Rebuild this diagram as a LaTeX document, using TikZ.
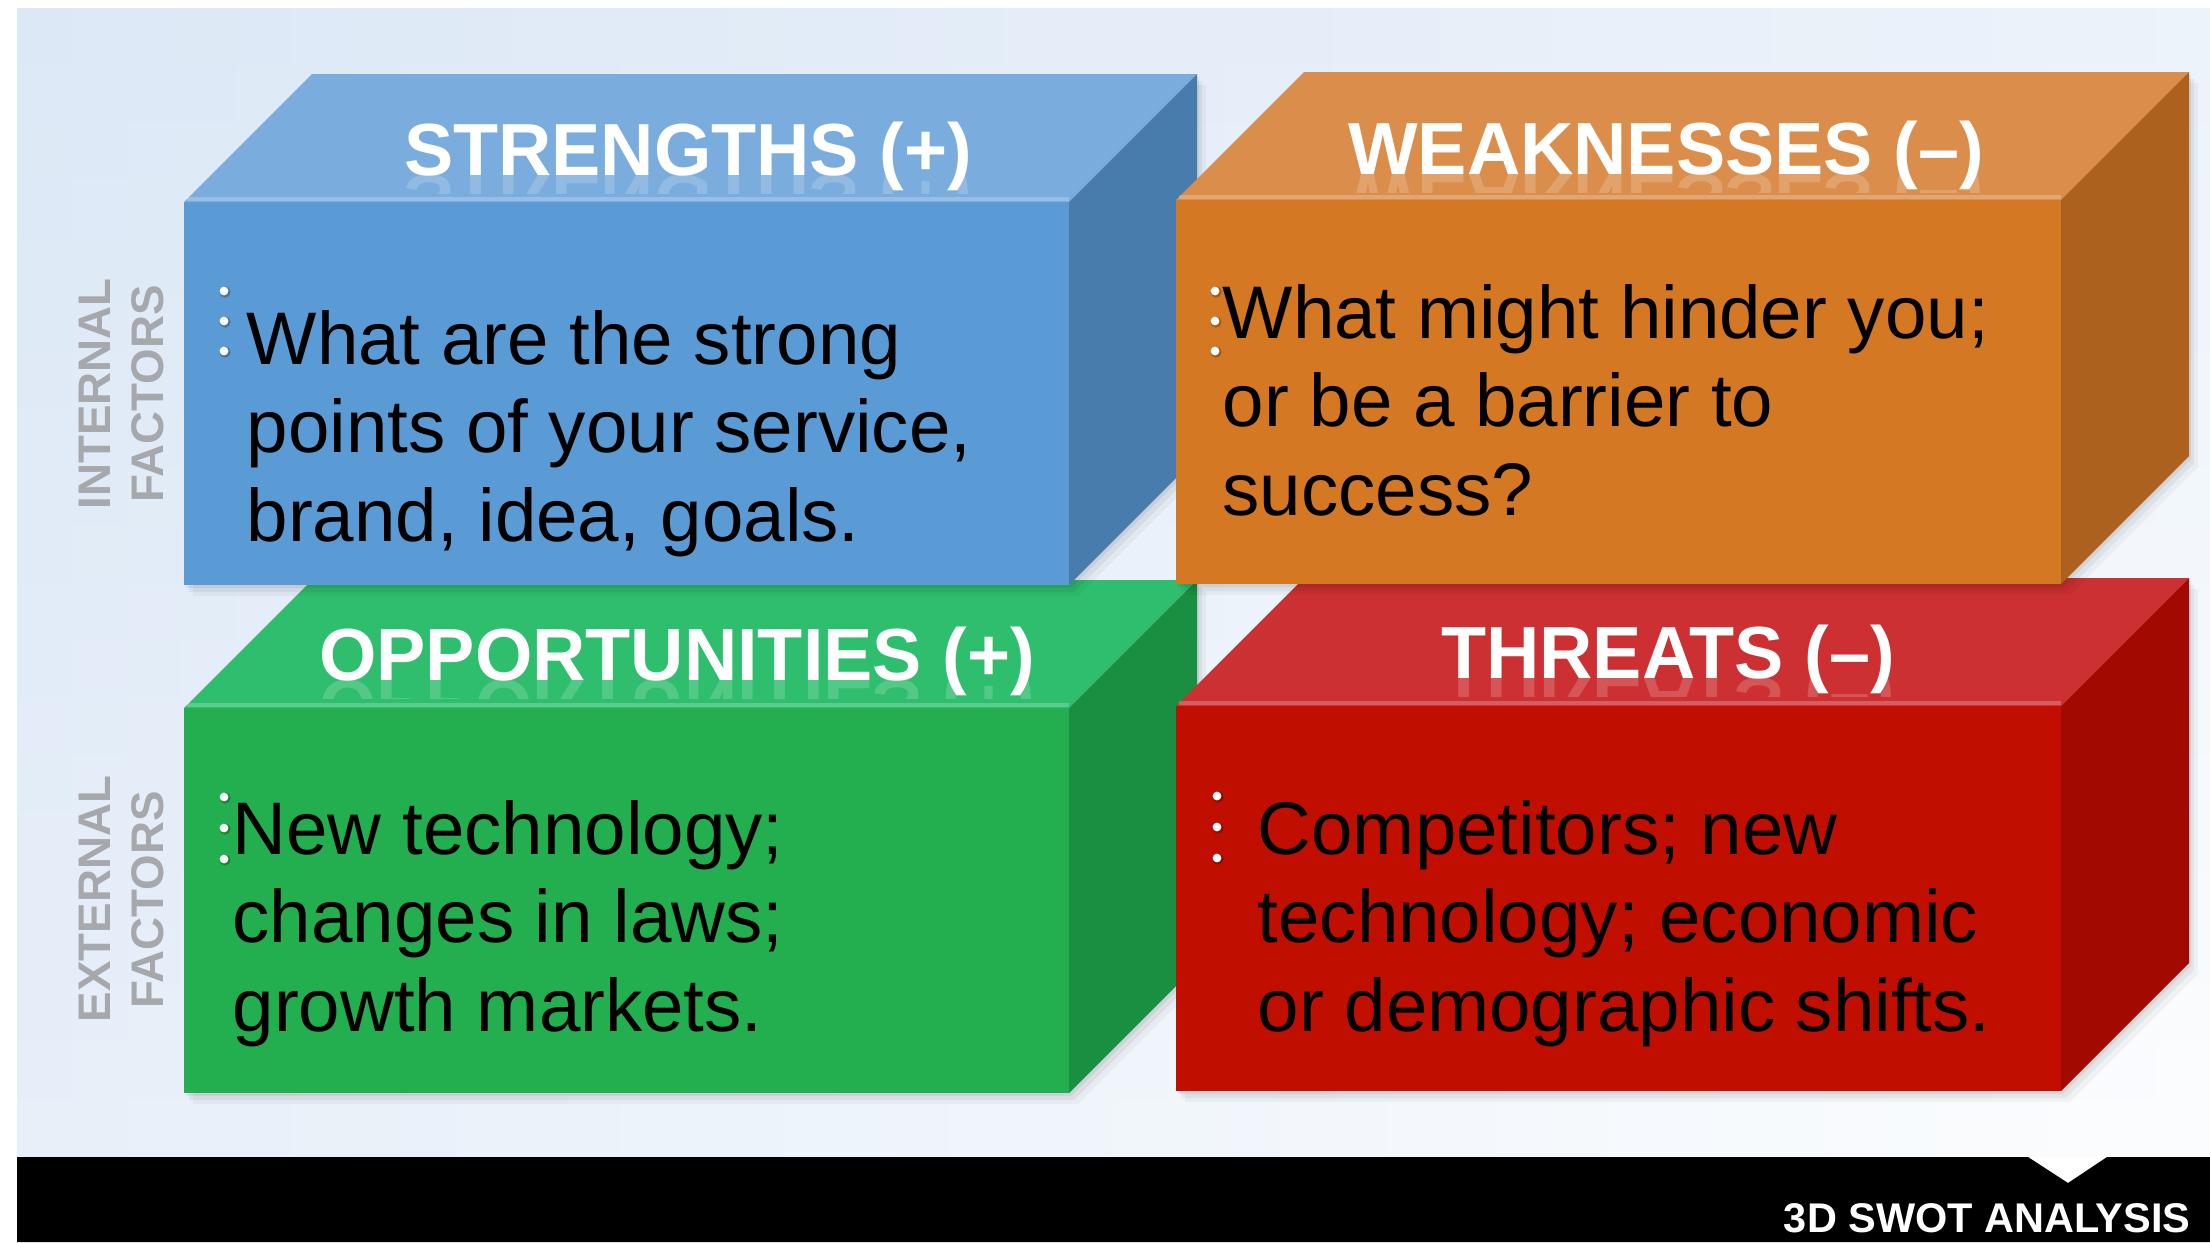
\documentclass[tikz,border=0pt]{standalone}
\usepackage{fontspec}
\setmainfont{Liberation Sans}
\usepackage{graphicx}

% face colours: front / top / side
\definecolor{sfront}{HTML}{5B9BD5}
\definecolor{stopc}{HTML}{7AADDE}
\definecolor{sside}{HTML}{487CAC}
\definecolor{wfront}{HTML}{D57823}
\definecolor{wtopc}{HTML}{DB8E4C}
\definecolor{wside}{HTML}{AC621E}
\definecolor{ofront}{HTML}{23AE50}
\definecolor{otopc}{HTML}{2EBE6E}
\definecolor{oside}{HTML}{1B8F41}
\definecolor{tfront}{HTML}{C00E00}
\definecolor{ttopc}{HTML}{CD3032}
\definecolor{tside}{HTML}{A00A00}
\definecolor{bgblue}{HTML}{DCE8F6}
\definecolor{factorgray}{HTML}{A6A8AC}

\newcommand{\cubd}{128}

% a cuboid seen obliquely: #1,#2 = front top-left, #3,#4 = front bottom-right
\newcommand{\cuboid}[7]{%
  \foreach \sx/\sy/\so in {9/11/0.035, 5/7/0.05, 2/3/0.06}{%
    \fill[black, opacity=\so] (#1+\sx,#2+\sy) -- (#1+\cubd+\sx,#2-\cubd+\sy)
      -- (#3+\cubd+\sx,#2-\cubd+\sy) -- (#3+\cubd+\sx,#4-\cubd+\sy)
      -- (#3+\sx,#4+\sy) -- (#1+\sx,#4+\sy) -- cycle;
  }
  \fill[#5] (#1,#2) rectangle (#3,#4);
  \fill[#6] (#1,#2) -- (#1+\cubd,#2-\cubd) -- (#3+\cubd,#2-\cubd) -- (#3,#2) -- cycle;
  \fill[#7] (#3,#2) -- (#3+\cubd,#2-\cubd) -- (#3+\cubd,#4-\cubd) -- (#3,#4) -- cycle;
  \draw[white, opacity=0.22, line width=1.2pt] (#1+3,#2-3) -- (#3,#2-3);
}

% faint mirror image of a heading just under its baseline
\newcommand{\headmirror}[4]{%
  \begin{scope}
    \clip (#2-420,#3) rectangle (#2+420,#3+18);
    \node[headtext, opacity=0.18] (#1) at (#2,#3) {\scalebox{1}[-1]{#4}};
  \end{scope}}

% three small bullet dots
\newcommand{\bulletdots}[4]{%
  \foreach \yy in {#2,#3,#4}{%
    \fill[black, opacity=0.25] (#1+1,\yy+1) circle[radius=1.6pt];
    \fill[white] (#1,\yy) circle[radius=1.25pt];
  }}

\begin{document}
\begin{tikzpicture}[x=0.1mm, y=-0.1mm,
  headtext/.style={font=\fontsize{21}{25}\selectfont\bfseries, text=white,
    inner sep=0pt, anchor=base},
  bodytext/.style={font=\fontsize{21.2}{25.3}\selectfont, text=black,
    inner sep=0pt, anchor=base west},
  factortext/.style={font=\fontsize{13}{15}\selectfont\bfseries, text=factorgray,
    inner sep=0pt, anchor=base, rotate=90},
  bartext/.style={font=\fontsize{11.8}{14}\selectfont\bfseries, text=white,
    inner sep=0pt, anchor=base east}]

\useasboundingbox (0,0) rectangle (2210,1242);

% page and backdrop: pale blue top left, fading to white towards bottom right
\fill[white] (0,0) rectangle (2210,1242);
\foreach \i in {0,...,39}{%
  \foreach \j in {0,...,19}{%
    \pgfmathsetmacro\u{(\i+0.5)/40}%
    \pgfmathsetmacro\v{(\j+0.5)/20}%
    \pgfmathsetmacro\p{100-45*\u-30*\v-15*\u*\v}%
    \pgfmathsetmacro\xa{17+\i*54.825}%
    \pgfmathsetmacro\xb{\xa+55.8}%
    \pgfmathsetmacro\ya{8+\j*57.45}%
    \pgfmathsetmacro\yb{min(\ya+58.4,1157)}%
    \fill[bgblue!\p!white] (\xa,\ya) rectangle (\xb,\yb);
  }}

% black footer band with its notch
\fill[black] (17,1157) -- (2028,1157) -- (2068,1183) -- (2107,1157)
  -- (2210,1157) -- (2210,1242) -- (17,1242) -- cycle;
\node[bartext] (title) at (2191,1232) {3D SWOT ANALYSIS};

% row labels
\node[factortext] (int1) at (110,394) {INTERNAL};
\node[factortext] (int2) at (163,394) {FACTORS};
\node[factortext] (ext1) at (110,899) {EXTERNAL};
\node[factortext] (ext2) at (163,900) {FACTORS};

% opportunities
\cuboid{184}{708}{1069}{1093}{ofront}{otopc}{oside}
\headmirror{ohm}{677}{680}{OPPORTUNITIES (+)}
\node[headtext] (ohead) at (677,680) {OPPORTUNITIES (+)};
\bulletdots{224}{797}{828}{859}
\node[bodytext] (otext) at (232,854)
  {\parbox[t]{280pt}{New technology;\\changes in laws;\\growth markets.}};

% threats
\cuboid{1176}{706}{2061}{1091}{tfront}{ttopc}{tside}
\headmirror{thm}{1668}{678}{THREATS (–)}
\node[headtext] (thead) at (1668,678) {THREATS (–)};
\bulletdots{1217}{796}{827}{858}
\node[bodytext] (ttext) at (1257,854)
  {\parbox[t]{280pt}{Competitors; new\\technology; economic\\or demographic shifts.}};

% strengths
\cuboid{184}{202}{1069}{585}{sfront}{stopc}{sside}
\headmirror{shm}{688}{175}{STRENGTHS (+)}
\node[headtext] (shead) at (688,175) {STRENGTHS (+)};
\bulletdots{224}{291}{321}{351}
\node[bodytext] (stext) at (246,364)
  {\parbox[t]{280pt}{What are the strong\\points of your service,\\brand, idea, goals.}};

% weaknesses
\cuboid{1176}{200}{2061}{584}{wfront}{wtopc}{wside}
\headmirror{whm}{1666}{174}{WEAKNESSES (–)}
\node[headtext] (whead) at (1666,174) {WEAKNESSES (–)};
\bulletdots{1215}{291}{321}{351}
\node[bodytext] (wtext) at (1222,338)
  {\parbox[t]{280pt}{What might hinder you;\\or be a barrier to\\success?}};

\end{tikzpicture}
\end{document}
